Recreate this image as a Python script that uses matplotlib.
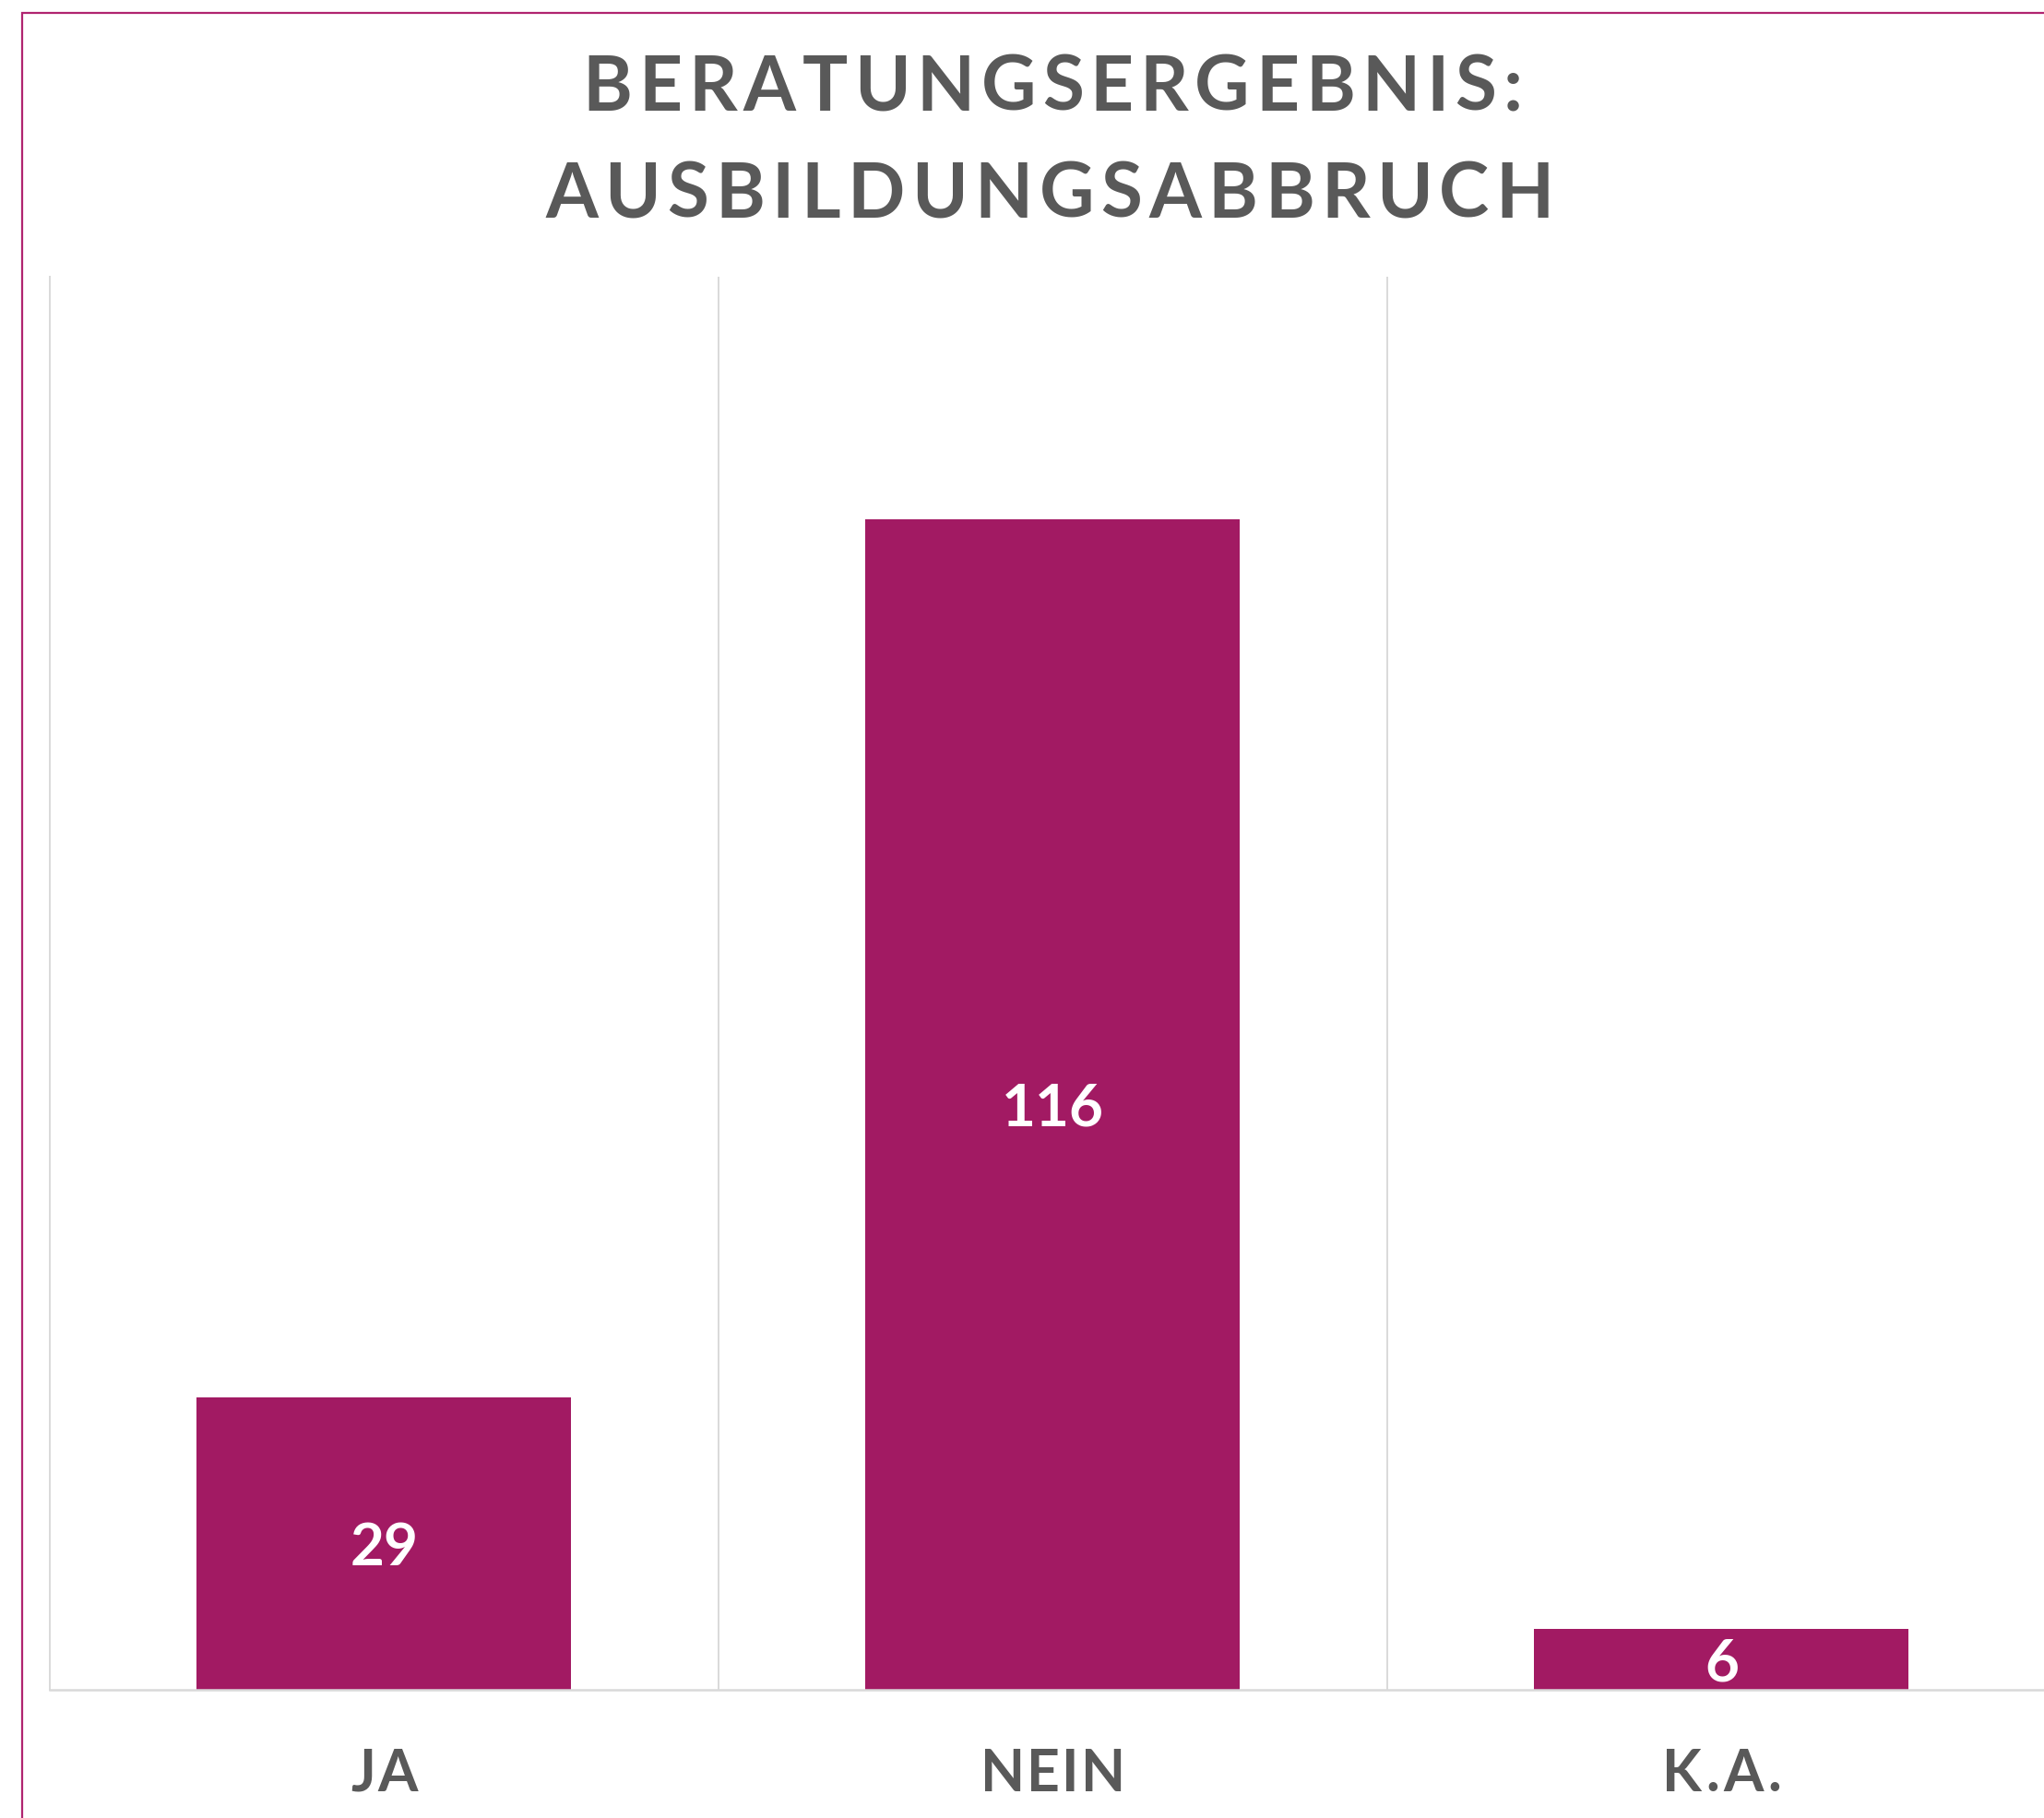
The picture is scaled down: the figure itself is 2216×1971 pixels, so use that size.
import matplotlib
matplotlib.use('Agg')
import matplotlib.pyplot as plt
from matplotlib.patches import Rectangle

categories = ['JA', 'NEIN', 'K.A.']
values = [29, 116, 6]
title_lines = ['BERATUNGSERGEBNIS:', 'AUSBILDUNGSABBRUCH']

bar_color = '#A21A63'
text_color = '#595959'
grid_color = '#D9D9D9'
font = ['Lato', 'DejaVu Sans']

W, H, DPI = 2216, 1971, 100
fig = plt.figure(figsize=(W / DPI, H / DPI), dpi=DPI)
renderer = fig.canvas.get_renderer()

# frame around the chart (right and bottom edges lie outside the crop)
fig.patches.append(Rectangle((24 / W, -0.1), 1.2, 1 - 14 / H + 0.1,
                             transform=fig.transFigure, fill=False,
                             edgecolor='#B02470', linewidth=1.6))

ax = fig.add_axes([54 / W, 1 - 1832 / H, 2175 / W, 1532 / H])
x = range(len(categories))
bars = ax.bar(x, values, width=0.56, color=bar_color, zorder=2)
ax.set_xlim(-0.5, 2.5)
ax.set_ylim(0, 140)
ax.set_yticks([])
ax.set_xticks([])
ax.set_xticks([0.5, 1.5], minor=True)
ax.tick_params(which='both', length=0)
ax.grid(True, which='minor', axis='x', color=grid_color, linewidth=1.4)
for s in ['top', 'right']:
    ax.spines[s].set_visible(False)
ax.spines['left'].set_color(grid_color)
ax.spines['left'].set_linewidth(1.4)
ax.spines['bottom'].set_color(grid_color)
ax.spines['bottom'].set_linewidth(1.8)


def spaced(cx, baseline, s, size, color, width=None, spacing=0):
    # draw text char by char (pixel coords) to imitate letter spacing
    pieces = []
    for ch in s:
        t = fig.text(0, 0, ch, fontsize=size, fontweight='bold', color=color,
                     family=font, va='baseline', ha='left',
                     transform=None)
        pieces.append((t, t.get_window_extent(renderer).width))
    natural = sum(w for _, w in pieces)
    if width is not None and len(s) > 1:
        spacing = (width - natural) / (len(s) - 1)
    total = natural + spacing * (len(s) - 1)
    xpos = cx - total / 2
    for t, w in pieces:
        t.set_position((xpos, baseline))
        xpos += w + spacing


# title
spaced(1141, H - 120, title_lines[0], 59, text_color, width=1019)
spaced(1138, H - 236, title_lines[1], 59, text_color, width=1094)

# category labels and value labels
tick_widths = [73, 157, 129]
for i, (cat, v) in enumerate(zip(categories, values)):
    px = ax.transData.transform((i, 0))[0]
    spaced(px, H - 1942, cat, 45, text_color, width=tick_widths[i])
    cy = ax.transData.transform((i, v / 2))[1]
    ax.text(i, v / 2, str(v), ha='center', va='center_baseline',
            fontsize=46, fontweight='bold', color='white', family=font,
            zorder=3)

fig.savefig('out.png', dpi=DPI, facecolor='white')
